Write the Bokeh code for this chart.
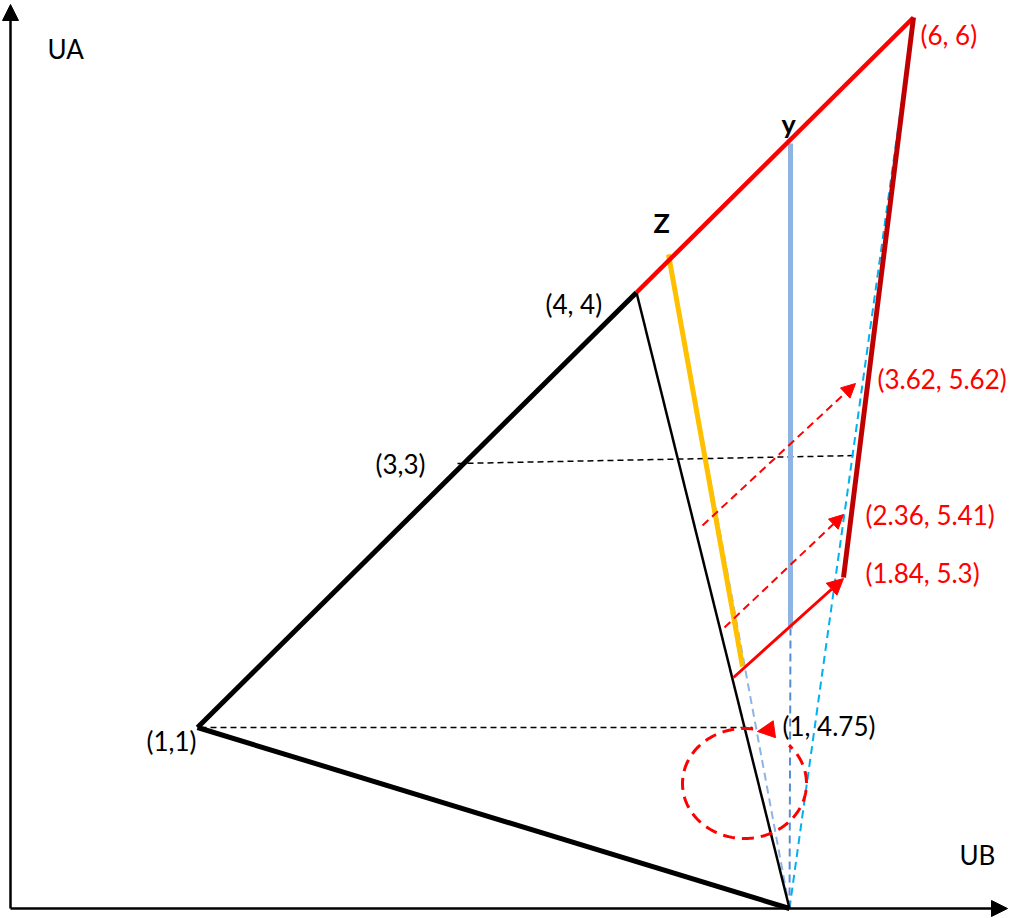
import numpy as np
from bokeh.plotting import figure
from bokeh.models import Range1d, Arrow, NormalHead
from bokeh.embed import file_html
from bokeh.resources import INLINE
from bokeh.core.properties import value

W, H = 1012, 918
FONT = value("Lato")

# Diagram points in page units (x to the right, y downward)
axis_corner = (10, 908)
axis_x_tip = (1007, 908)
axis_y_tip = (10, 4)

origin = (789, 908)
pt_1_1 = (197, 727)
pt_4_4 = (636, 292)
pt_6_6 = (913, 17)
pt_184_53 = (843, 577)
z_top = (668, 254)
z_bottom = (742, 666)
y_top = (790, 143)
y_bottom = (790, 628)
guide_3_3 = [(457, 463), (857, 455)]
guide_1_1 = [(200, 727), (752, 727)]

solid_shift = [(733, 677), (843, 578)]
dashed_shifts = [
    [(724, 627), (843, 514)],
    [(702, 525), (855, 383)],
]

loop_center = (744, 783)
loop_radii = (62, 55)
loop_span_deg = (82, 404)
loop_arrow = [(779, 728), (757, 731)]

label_text = ["(6, 6)", "(4, 4)", "(3,3)", "(1,1)", "(1, 4.75)",
              "(3.62, 5.62)", "(2.36, 5.41)", "(1.84, 5.3)", "UA", "UB"]
label_x = [920, 545, 375, 146, 782, 877, 865, 865, 47, 959]
label_y = [34, 303, 463, 740, 725, 378, 514, 572, 48, 854]
label_color = ["#FF0000", "black", "black", "black", "black",
               "#FF0000", "#FF0000", "#FF0000", "black", "black"]

mark_text = ["Z", "y"]
mark_x = [653, 781]
mark_y = [222, 123]

p = figure(width=W, height=H, output_backend="svg", toolbar_location=None,
           x_range=Range1d(0, W), y_range=Range1d(H, 0), min_border=0)
p.axis.visible = False
p.grid.visible = False
p.outline_line_color = None
p.background_fill_color = "white"
p.border_fill_color = "white"


def seg(a, b, **kw):
    p.line([a[0], b[0]], [a[1], b[1]], **kw)


# coordinate axes with arrow heads
for tip in (axis_x_tip, axis_y_tip):
    p.add_layout(Arrow(end=NormalHead(size=16, fill_color="black", line_color="black"),
                       x_start=axis_corner[0], y_start=axis_corner[1],
                       x_end=tip[0], y_end=tip[1], line_color="black", line_width=2.5))

# horizontal guides
seg(*guide_1_1, line_color="black", line_width=1.5, line_dash="6 4")
seg(*guide_3_3, line_color="black", line_width=1.5, line_dash="6 4")

# projection rays from the origin
seg(origin, z_top, line_color="#8EB4E3", line_width=2, line_dash="8 5")
seg(origin, pt_6_6, line_color="#00B0F0", line_width=2, line_dash="8 5")
seg(origin, y_bottom, line_color="#558ED5", line_width=2, line_dash="8 5")

# black triangle
seg(pt_1_1, pt_4_4, line_color="black", line_width=5)
seg(pt_1_1, origin, line_color="black", line_width=5)
seg(pt_4_4, origin, line_color="black", line_width=2.5)

# dashed shift arrows
for a, b in dashed_shifts:
    p.add_layout(Arrow(end=NormalHead(size=14, fill_color="#FF0000", line_color="#FF0000"),
                       x_start=a[0], y_start=a[1], x_end=b[0], y_end=b[1],
                       line_color="#FF0000", line_width=2, line_dash="8 5"))

# y and Z segments
seg(y_top, y_bottom, line_color="#8EB4E3", line_width=5)
seg(z_top, z_bottom, line_color="#FFC000", line_width=5)

# frontier
seg(pt_4_4, pt_6_6, line_color="#FF0000", line_width=4.5)
seg(pt_6_6, pt_184_53, line_color="#C00000", line_width=5)

# solid shift arrow
a, b = solid_shift
p.add_layout(Arrow(end=NormalHead(size=16, fill_color="#FF0000", line_color="#FF0000"),
                   x_start=a[0], y_start=a[1], x_end=b[0], y_end=b[1],
                   line_color="#FF0000", line_width=3))

# dashed loop with arrow head
t = np.radians(np.linspace(loop_span_deg[0], loop_span_deg[1], 200))
p.line(loop_center[0] + loop_radii[0] * np.cos(t),
       loop_center[1] - loop_radii[1] * np.sin(t),
       line_color="#FF0000", line_width=3, line_dash="12 7")
a, b = loop_arrow
p.add_layout(Arrow(end=NormalHead(size=17, fill_color="#FF0000", line_color="#FF0000"),
                   x_start=a[0], y_start=a[1], x_end=b[0], y_end=b[1],
                   line_color="#FF0000", line_width=0.1, line_alpha=0))

# labels
for txt, x, y, c in zip(label_text, label_x, label_y, label_color):
    p.text(x=[x], y=[y], text=[txt], text_font=FONT, text_font_size="26px",
           text_color=c, text_align="left", text_baseline="middle")
for txt, x, y in zip(mark_text, mark_x, mark_y):
    p.text(x=[x], y=[y], text=[txt], text_font=FONT, text_font_size="27px",
           text_font_style="bold", text_color="black",
           text_align="left", text_baseline="middle")

open("out.html", "w").write(file_html(p, INLINE))
